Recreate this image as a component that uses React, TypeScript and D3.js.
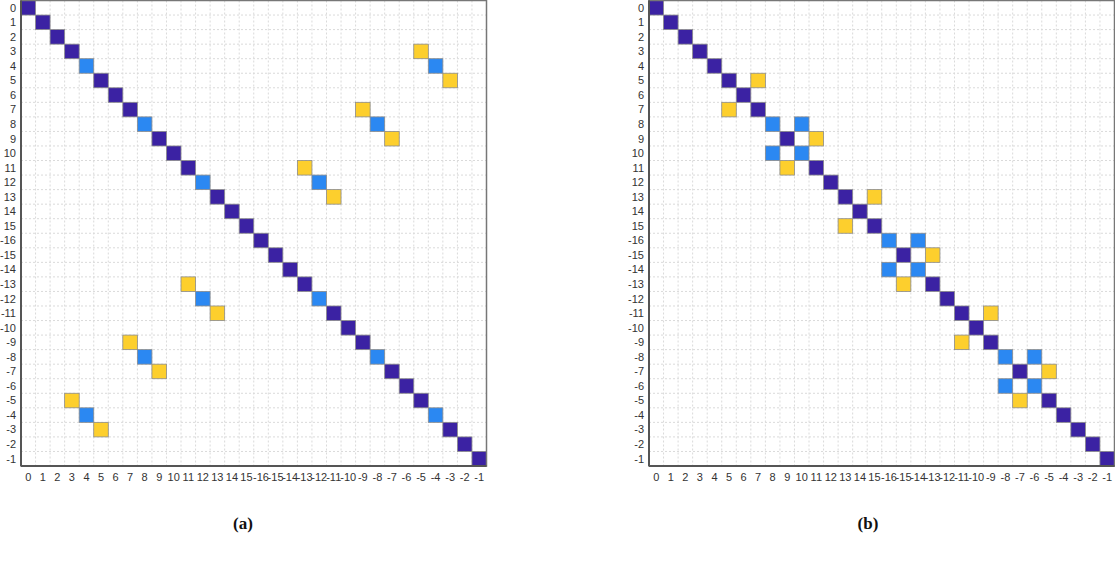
import React, { useEffect, useRef } from 'react';
import * as d3 from 'd3';

// axis labels: 0..15 then -16..-1
const labels: string[] = [
  '0', '1', '2', '3', '4', '5', '6', '7', '8', '9', '10', '11', '12', '13', '14', '15',
  '-16', '-15', '-14', '-13', '-12', '-11', '-10', '-9', '-8', '-7', '-6', '-5', '-4', '-3', '-2', '-1',
];

// cells as [row, col, value]; 1 = purple, 0.5 = blue, -0.5 = yellow
const cellsA: [number, number, number][] = [
  [0, 0, 1], [1, 1, 1], [2, 2, 1], [3, 3, 1], [4, 4, 0.5], [5, 5, 1], [6, 6, 1], [7, 7, 1],
  [8, 8, 0.5], [9, 9, 1], [10, 10, 1], [11, 11, 1], [12, 12, 0.5], [13, 13, 1], [14, 14, 1], [15, 15, 1],
  [16, 16, 1], [17, 17, 1], [18, 18, 1], [19, 19, 1], [20, 20, 0.5], [21, 21, 1], [22, 22, 1], [23, 23, 1],
  [24, 24, 0.5], [25, 25, 1], [26, 26, 1], [27, 27, 1], [28, 28, 0.5], [29, 29, 1], [30, 30, 1], [31, 31, 1],
  [3, 27, -0.5], [4, 28, 0.5], [5, 29, -0.5],
  [7, 23, -0.5], [8, 24, 0.5], [9, 25, -0.5],
  [11, 19, -0.5], [12, 20, 0.5], [13, 21, -0.5],
  [19, 11, -0.5], [20, 12, 0.5], [21, 13, -0.5],
  [23, 7, -0.5], [24, 8, 0.5], [25, 9, -0.5],
  [27, 3, -0.5], [28, 4, 0.5], [29, 5, -0.5],
];

const cellsB: [number, number, number][] = [
  [0, 0, 1], [1, 1, 1], [2, 2, 1], [3, 3, 1], [4, 4, 1],
  [5, 5, 1], [5, 7, -0.5], [6, 6, 1], [7, 5, -0.5], [7, 7, 1],
  [8, 8, 0.5], [8, 10, 0.5], [9, 9, 1], [9, 11, -0.5], [10, 8, 0.5], [10, 10, 0.5], [11, 9, -0.5], [11, 11, 1],
  [12, 12, 1],
  [13, 13, 1], [13, 15, -0.5], [14, 14, 1], [15, 13, -0.5], [15, 15, 1],
  [16, 16, 0.5], [16, 18, 0.5], [17, 17, 1], [17, 19, -0.5], [18, 16, 0.5], [18, 18, 0.5], [19, 17, -0.5], [19, 19, 1],
  [20, 20, 1],
  [21, 21, 1], [21, 23, -0.5], [22, 22, 1], [23, 21, -0.5], [23, 23, 1],
  [24, 24, 0.5], [24, 26, 0.5], [25, 25, 1], [25, 27, -0.5], [26, 24, 0.5], [26, 26, 0.5], [27, 25, -0.5], [27, 27, 1],
  [28, 28, 1], [29, 29, 1], [30, 30, 1], [31, 31, 1],
];

const captions = ['(a)', '(b)'];

const colorOf = (v: number) => (v === 1 ? '#3b22a3' : v === 0.5 ? '#2b88f2' : '#fdcf2d');

const App: React.FC = () => {
  const svgRef = useRef<SVGSVGElement>(null);

  useEffect(() => {
    const svg = d3.select(svgRef.current);
    svg.selectAll('*').remove();

    const size = 465.5;
    const top = 0.5;
    const panels = [
      { left: 21, cells: cellsA, caption: captions[0], cx: 243 },
      { left: 649, cells: cellsB, caption: captions[1], cx: 868 },
    ];

    panels.forEach((p) => {
      const g = svg.append('g').attr('transform', `translate(${p.left},${top})`);
      const x = d3.scaleBand<string>().domain(labels).range([0, size]);
      const y = d3.scaleBand<string>().domain(labels).range([0, size]);
      const bw = x.bandwidth();

      // dotted grid
      const grid = g.append('g');
      labels.forEach((l, i) => {
        if (i === 0) return;
        grid.append('line')
          .attr('x1', x(l)!).attr('x2', x(l)!).attr('y1', 0).attr('y2', size)
          .attr('stroke', '#dadada').attr('stroke-dasharray', '2,2').attr('stroke-width', 1);
        grid.append('line')
          .attr('y1', y(l)!).attr('y2', y(l)!).attr('x1', 0).attr('x2', size)
          .attr('stroke', '#dadada').attr('stroke-dasharray', '2,2').attr('stroke-width', 1);
      });

      g.selectAll('rect.cell')
        .data(p.cells)
        .enter()
        .append('rect')
        .attr('class', 'cell')
        .attr('x', (d) => x(labels[d[1]])!)
        .attr('y', (d) => y(labels[d[0]])!)
        .attr('width', bw)
        .attr('height', bw)
        .attr('fill', (d) => colorOf(d[2]))
        .attr('stroke', '#8c8c8c')
        .attr('stroke-width', 0.8);

      // frame
      g.append('rect')
        .attr('x', 0).attr('y', 0).attr('width', size).attr('height', size)
        .attr('fill', 'none').attr('stroke', '#777').attr('stroke-width', 1.5);
      g.append('line').attr('x1', 0).attr('x2', 0).attr('y1', 0).attr('y2', size)
        .attr('stroke', '#555').attr('stroke-width', 2);
      g.append('line').attr('x1', 0).attr('x2', size).attr('y1', size).attr('y2', size)
        .attr('stroke', '#555').attr('stroke-width', 2);

      // tick labels
      g.append('g').selectAll('text')
        .data(labels)
        .enter()
        .append('text')
        .attr('x', -5)
        .attr('y', (d) => y(d)! + bw / 2)
        .attr('dy', '0.35em')
        .attr('text-anchor', 'end')
        .attr('font-family', '"Liberation Sans", Arial, sans-serif')
        .attr('font-size', 11)
        .attr('fill', '#333')
        .text((d) => d);

      g.append('g').selectAll('text')
        .data(labels)
        .enter()
        .append('text')
        .attr('x', (d) => x(d)! + bw / 2)
        .attr('y', size + 15)
        .attr('text-anchor', 'middle')
        .attr('font-family', '"Liberation Sans", Arial, sans-serif')
        .attr('font-size', 11)
        .attr('fill', '#333')
        .text((d) => d);

      svg.append('text')
        .attr('x', p.cx)
        .attr('y', 529)
        .attr('text-anchor', 'middle')
        .attr('font-family', '"Liberation Serif", "DejaVu Serif", serif')
        .attr('font-weight', 'bold')
        .attr('font-size', 17)
        .attr('fill', '#111')
        .text(p.caption);
    });
  }, []);

  return (
    <svg
      ref={svgRef}
      width={1115}
      height={571}
      style={{ position: 'absolute', left: 0, top: 0, background: '#fff' }}
    />
  );
};

export default App;
